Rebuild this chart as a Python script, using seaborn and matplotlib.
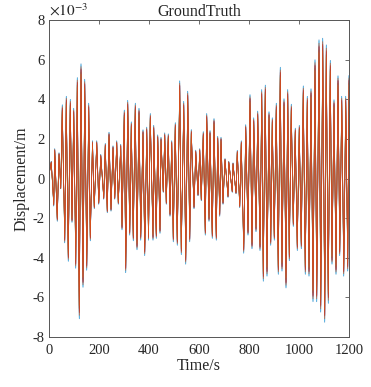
import numpy as np
import pandas as pd
import matplotlib
matplotlib.use("Agg")
import matplotlib.pyplot as plt
import seaborn as sns

# Extreme displacement values (x 1e-3 m) of the reference channel, in time order (s)
peak_time = [0, 9, 19, 23, 33, 40, 47, 53, 63, 69, 77, 85, 92, 99, 107, 113, 121, 128, 136,
             143, 151, 159, 165, 174, 181, 191, 199, 207, 219, 225, 233, 240, 248, 256, 263,
             271, 277, 287, 292, 301, 307, 315, 323, 329, 337, 345, 352, 360, 367, 376, 383,
             391, 398, 405, 416, 419, 429, 435, 444, 448, 457, 463, 469, 477, 484, 491, 497,
             505, 513, 523, 529, 539, 547, 555, 563, 569, 580, 587, 596, 603, 609, 617, 625,
             631, 640, 644, 653, 660, 669, 675, 683, 688, 696, 704, 716, 719, 733, 736, 748,
             753, 763, 769, 779, 787, 796, 804, 812, 819, 828, 835, 844, 851, 857, 865, 872,
             880, 887, 893, 901, 909, 917, 925, 932, 940, 948, 955, 961, 969, 977, 985, 993,
             1001, 1009, 1017, 1025, 1033, 1040, 1048, 1056, 1064, 1071, 1080, 1087, 1095,
             1103, 1109, 1117, 1125, 1132, 1140, 1148, 1156, 1163, 1171, 1179, 1187, 1195, 1200]
peak_disp = [0.20, 0.85, -1.36, 1.47, -2.11, 1.27, -0.51, 3.63, -3.17, 4.05, -4.08, 3.90, -2.16,
             3.46, -4.42, 4.97, -6.91, 5.65, -5.36, 4.89, -4.52, 3.71, -3.07, 1.86, -1.49, 1.86,
             -1.27, 1.19, -1.02, 1.73, -1.69, 2.28, -1.61, 1.61, -1.02, 1.86, -1.27, 1.69, -2.53,
             3.37, -4.64, 3.85, -2.79, 2.79, -3.07, 3.71, -3.51, 3.46, -3.04, 2.40, -3.80, 2.53,
             -3.04, 3.20, -3.04, 2.62, -2.95, 2.15, -2.70, 2.03, -0.68, 2.25, -1.27, 2.20, -1.86,
             1.86, -3.12, 2.75, -3.29, 4.81, -3.75, 3.80, -4.22, 4.30, -3.12, 2.41, -1.49, 1.40,
             -0.85, 1.47, -1.10, 2.31, -2.79, 3.20, -2.11, 2.36, -2.95, 2.95, -3.04, 2.08, -1.86,
             2.03, -1.27, 0.98, -0.93, 0.85, -0.68, 0.77, -0.75, 1.39, -1.44, 1.86, -3.68, 2.65,
             -2.79, 4.13, -3.46, 2.99, -2.62, 3.32, -3.55, 4.38, -5.06, 4.60, -4.81, 3.29, -3.29,
             2.99, -3.04, 3.71, -4.72, 5.48, -4.56, 3.93, -5.39, 4.38, -4.05, 3.66, -2.36, 2.48,
             -3.55, 2.62, -3.46, 4.56, -4.72, 4.05, -4.81, 4.42, -6.07, 5.85, -6.07, 6.83, -6.58,
             6.91, -7.08, 6.58, -6.15, 5.82, -4.22, 3.88, -4.72, 5.06, -3.80, 4.05, -4.81, 4.05,
             -4.56, 5.08]

# Channels (drawn in this order, last on top), their amplitude ratio and lag (s)
channels = ["C1", "C6", "C5", "C4", "C3", "C7", "C2"]
channel_colors = ["#0072BD", "#4DBEEE", "#77AC30", "#7E2F8E", "#EDB120", "#A2142F", "#D95319"]
channel_gain = [1.025, 1.015, 0.95, 0.97, 0.93, 0.98, 1.00]
channel_lag = [0.0, 0.0, -0.15, 0.15, -0.1, 0.1, 0.0]

x_ticks = [0, 200, 400, 600, 800, 1000, 1200]
y_ticks = [-8, -6, -4, -2, 0, 2, 4, 6, 8]

frames = []
for name, g, lag in zip(channels, channel_gain, channel_lag):
    frames.append(pd.DataFrame({
        "Time": np.clip(np.array(peak_time, float) + lag, 0, 1200),
        "Disp": np.array(peak_disp) * g,
        "channel": name,
    }))
df = pd.concat(frames, ignore_index=True)

sns.set_style("white")
plt.rcParams["font.family"] = ["Liberation Serif", "DejaVu Serif"]
plt.rcParams["mathtext.fontset"] = "stix"
plt.rcParams["axes.unicode_minus"] = False

fig = plt.figure(figsize=(3.71, 3.87), dpi=100)
ax = fig.add_axes([49 / 371, 50 / 387, 300 / 371, 317 / 387])

sns.lineplot(data=df, x="Time", y="Disp", hue="channel", hue_order=channels,
             palette=channel_colors, units="channel", estimator=None, sort=False,
             legend=False, linewidth=0.45, ax=ax)

ax.set_xlim(0, 1200)
ax.set_ylim(-8, 8)
ax.set_xticks(x_ticks)
ax.set_yticks(y_ticks)
ax.set_xticklabels([str(v) for v in x_ticks])
ax.set_yticklabels([str(v) for v in y_ticks])

edge = "#555555"
for s in ax.spines.values():
    s.set_visible(True)
    s.set_color(edge)
    s.set_linewidth(0.7)
ax.tick_params(direction="in", length=3, width=0.6, color=edge, labelsize=10.5,
               labelcolor="#262626", top=True, right=True)
ax.tick_params(axis="x", pad=5)
ax.tick_params(axis="y", pad=3)

ax.set_xlabel("Time/s", fontsize=11.5, color="#262626", labelpad=1)
ax.set_ylabel("Displacement/m", fontsize=11.5, color="#262626", labelpad=2)
ax.set_title("GroundTruth", fontsize=11.5, color="#262626", pad=3)
ax.text(0.0, 1.004, r"$\times10^{-3}$", transform=ax.transAxes, ha="left", va="bottom",
        fontsize=11, color="#262626")

fig.savefig("out.png", dpi=100)
